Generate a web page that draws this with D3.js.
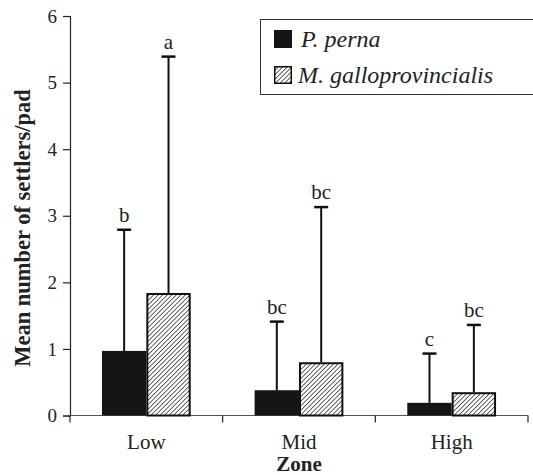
<!DOCTYPE html>
<html>
<head>
<meta charset="utf-8">
<script src="https://cdn.jsdelivr.net/npm/d3@7/dist/d3.min.js"></script>
<style>
  body { margin: 0; background: #fff; }
  text { font-family: "Liberation Serif", "Times New Roman", serif; }
</style>
</head>
<body>
<div id="chart"></div>
<script>
// 数据
const zones = ['Low', 'Mid', 'High']
const species = ['P. perna', 'M. galloprovincialis']
const pernaMean = [0.97, 0.38, 0.19]
const galloMean = [1.84, 0.80, 0.35]
const pernaUpper = [2.79, 1.41, 0.93]
const galloUpper = [5.39, 3.13, 1.36]
const pernaLetters = ['b', 'bc', 'c']
const galloLetters = ['a', 'bc', 'bc']
const yTicks = [0, 1, 2, 3, 4, 5, 6]

const width = 533
const height = 475
const margin = { top: 16, right: 5, bottom: 59, left: 70 }

const svg = d3.select('#chart')
  .append('svg')
  .attr('width', width)
  .attr('height', height)

// 斜线填充
const defs = svg.append('defs')
const pattern = defs.append('pattern')
  .attr('id', 'hatch')
  .attr('patternUnits', 'userSpaceOnUse')
  .attr('width', 3.2)
  .attr('height', 3.2)
  .attr('patternTransform', 'rotate(45)')
pattern.append('rect').attr('width', 3.2).attr('height', 3.2).attr('fill', '#fff')
pattern.append('line')
  .attr('x1', 0).attr('y1', 0).attr('x2', 0).attr('y2', 3.2)
  .attr('stroke', '#222').attr('stroke-width', 1.4)

const x = d3.scaleBand()
  .domain(zones)
  .range([margin.left, width - margin.right])

const y = d3.scaleLinear()
  .domain([0, 6])
  .range([height - margin.bottom - 0.5, margin.top])

const sub = d3.scaleBand()
  .domain(species)
  .range([0, x.bandwidth()])
  .paddingOuter(0.72)
  .paddingInner(0)

// y轴
const yAxis = svg.append('g')
  .attr('transform', `translate(${margin.left},0)`)
  .call(d3.axisLeft(y).tickValues(yTicks).tickSize(7).tickPadding(6).tickFormat(d3.format('d')))
yAxis.select('.domain').attr('stroke', '#222').attr('stroke-width', 1.2)
yAxis.selectAll('.tick line').attr('stroke', '#222').attr('stroke-width', 1.2)
yAxis.selectAll('.tick text').attr('font-size', 19).attr('fill', '#222')

// x轴
const xAxis = svg.append('g')
  .attr('transform', `translate(0,${y(0)})`)
  .call(d3.axisBottom(x).tickSize(0).tickPadding(19))
xAxis.select('.domain').remove()
xAxis.append('line')
  .attr('x1', margin.left - 7).attr('x2', width - margin.right)
  .attr('stroke', '#555').attr('stroke-width', 1.2)
xAxis.selectAll('.sep')
  .data(zones.slice(1).concat(['end']))
  .enter().append('line')
  .attr('class', 'sep')
  .attr('x1', (d, i) => margin.left + x.step() * (i + 1))
  .attr('x2', (d, i) => margin.left + x.step() * (i + 1))
  .attr('y1', 0).attr('y2', 7)
  .attr('stroke', '#222').attr('stroke-width', 1.2)
xAxis.append('line')
  .attr('x1', margin.left).attr('x2', margin.left)
  .attr('y1', 0).attr('y2', 7)
  .attr('stroke', '#222').attr('stroke-width', 1.2)
xAxis.selectAll('.tick text').attr('font-size', 21).attr('fill', '#222')

// 组合数据
const rows = zones.map((z, i) => [
  { zone: z, sp: species[0], mean: pernaMean[i], upper: pernaUpper[i], letter: pernaLetters[i] },
  { zone: z, sp: species[1], mean: galloMean[i], upper: galloUpper[i], letter: galloLetters[i] }
]).flat()

const bx = d => x(d.zone) + sub(d.sp)
const cx = d => bx(d) + sub.bandwidth() / 2

// 误差线
const err = svg.append('g')
err.selectAll('line.v')
  .data(rows)
  .enter().append('line')
  .attr('class', 'v')
  .attr('x1', cx).attr('x2', cx)
  .attr('y1', d => y(d.mean)).attr('y2', d => y(d.upper))
  .attr('stroke', '#111').attr('stroke-width', 2)
err.selectAll('line.cap')
  .data(rows)
  .enter().append('line')
  .attr('class', 'cap')
  .attr('x1', d => cx(d) - 7).attr('x2', d => cx(d) + 7)
  .attr('y1', d => y(d.upper)).attr('y2', d => y(d.upper))
  .attr('stroke', '#111').attr('stroke-width', 2.5)

// 柱子
svg.append('g').selectAll('rect')
  .data(rows)
  .enter().append('rect')
  .attr('x', d => d.sp === species[0] ? bx(d) : bx(d) + 1)
  .attr('y', d => d.sp === species[0] ? y(d.mean) : y(d.mean) + 1)
  .attr('width', d => d.sp === species[0] ? sub.bandwidth() : sub.bandwidth() - 2)
  .attr('height', d => d.sp === species[0] ? y(0) - y(d.mean) : y(0) - y(d.mean) - 1)
  .attr('fill', d => d.sp === species[0] ? '#141414' : 'url(#hatch)')
  .attr('stroke', d => d.sp === species[0] ? 'none' : '#111')
  .attr('stroke-width', 2)

// 字母标注
svg.append('g').selectAll('text')
  .data(rows)
  .enter().append('text')
  .attr('x', cx)
  .attr('y', d => y(d.upper) - 8)
  .attr('text-anchor', 'middle')
  .attr('font-size', 21)
  .attr('fill', '#222')
  .text(d => d.letter)

// 轴标题
svg.append('text')
  .attr('transform', `translate(30,228) rotate(-90)`)
  .attr('text-anchor', 'middle')
  .attr('font-size', 22.5)
  .attr('font-weight', 'bold')
  .attr('fill', '#222')
  .text('Mean number of settlers/pad')
svg.append('text')
  .attr('x', x('Mid') + x.bandwidth() / 2)
  .attr('y', 471)
  .attr('text-anchor', 'middle')
  .attr('font-size', 21)
  .attr('font-weight', 'bold')
  .attr('fill', '#222')
  .text('Zone')

// 图例
const legend = svg.append('g')
legend.append('rect')
  .attr('x', 260.5).attr('y', 19.5)
  .attr('width', 280).attr('height', 75)
  .attr('fill', '#fff').attr('stroke', '#333').attr('stroke-width', 1)
const items = legend.selectAll('g.item')
  .data(species)
  .enter().append('g')
  .attr('class', 'item')
  .attr('transform', (d, i) => `translate(274,${30 + i * 36})`)
items.append('rect')
  .attr('x', (d, i) => i ? 0.75 : 0)
  .attr('y', (d, i) => i ? 0.75 : 0)
  .attr('width', (d, i) => i ? 16.5 : 18)
  .attr('height', (d, i) => i ? 16.5 : 18)
  .attr('fill', (d, i) => i ? 'url(#hatch)' : '#141414')
  .attr('stroke', (d, i) => i ? '#111' : 'none')
  .attr('stroke-width', 1.5)
items.append('text')
  .attr('x', (d, i) => i ? 24 : 27)
  .attr('y', 17)
  .attr('font-size', 24)
  .attr('font-style', 'italic')
  .attr('fill', '#222')
  .text(d => d)
</script>
</body>
</html>
